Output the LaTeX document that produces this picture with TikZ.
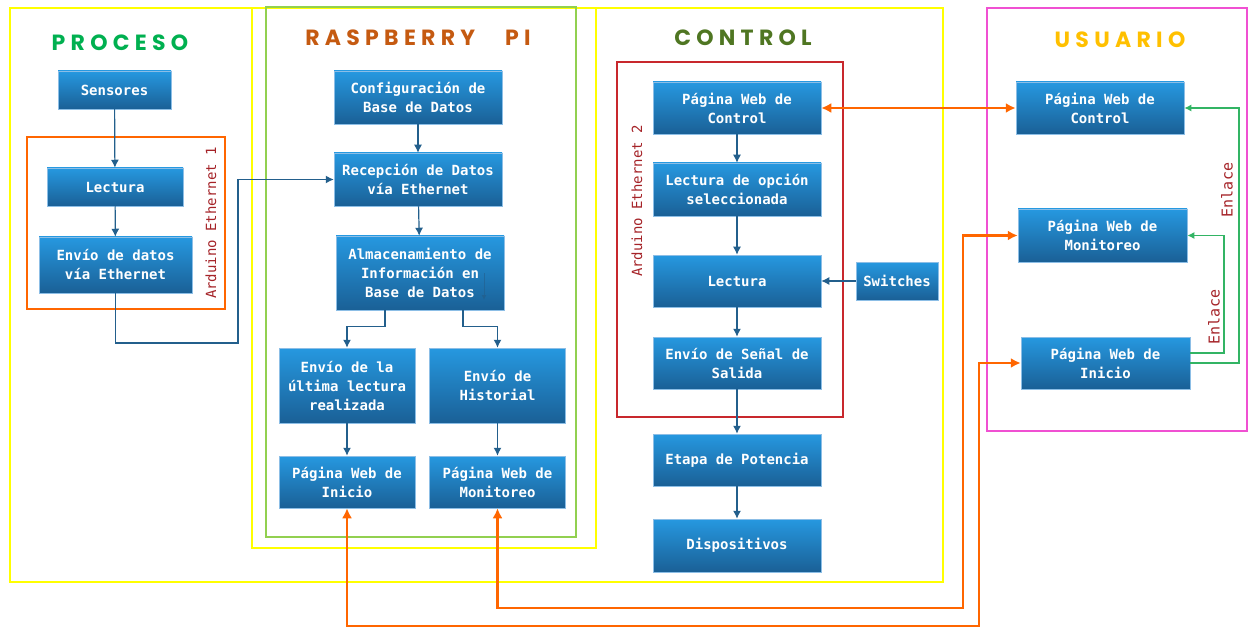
\documentclass[tikz,border=0pt]{standalone}
\usepackage{fontspec}
\setmonofont{DejaVu Sans Mono}
\newfontfamily\titlefont{Poppins}[LetterSpace=24]
\usetikzlibrary{arrows.meta, calc}

\definecolor{boxtop}{RGB}{38,152,224}
\definecolor{boxbot}{RGB}{26,96,150}
\definecolor{boxedge}{RGB}{140,190,230}
\definecolor{lineblue}{RGB}{35,95,140}
\definecolor{orangeln}{RGB}{255,102,0}
\definecolor{greenln}{RGB}{50,180,100}
\definecolor{labred}{RGB}{165,35,40}
\definecolor{cproc}{RGB}{0,176,80}
\definecolor{craspi}{RGB}{197,90,17}
\definecolor{cctrl}{RGB}{79,118,34}
\definecolor{cuser}{RGB}{255,192,0}
\definecolor{fyellow}{RGB}{255,255,0}
\definecolor{fgreen}{RGB}{146,208,80}
\definecolor{forange}{RGB}{255,102,0}
\definecolor{fred}{RGB}{200,40,45}
\definecolor{fpink}{RGB}{240,80,210}

\begin{document}
\begin{tikzpicture}[x=1pt, y=-1pt,
    blk/.style={rectangle, draw=boxedge, line width=0.5pt, top color=boxtop, bottom color=boxbot,
        text=white, font=\ttfamily\bfseries\fontsize{14}{19}\selectfont, align=center, inner sep=0pt},
    ttl/.style={font=\titlefont\bfseries\fontsize{22}{22}\selectfont},
    tag/.style={rotate=90, text=labred, font=\ttfamily\fontsize{14}{14}\selectfont},
    bord/.style={line width=2.8pt},
    conn/.style={draw=lineblue, line width=1.2pt, -{Latex[length=8pt,width=8pt]}},
    web/.style={draw=orangeln, line width=2.4pt, {Latex[length=10pt,width=10pt]}-{Latex[length=10pt,width=10pt]}},
    link/.style={draw=greenln, line width=1.4pt, -{Latex[length=7pt,width=7pt]}}]
    \useasboundingbox (0,0) rectangle (1249,628);

    % frames
    \draw[bord, fyellow] (10,8) rectangle (943,582);
    \draw[bord, fyellow] (252,8) rectangle (596,548);
    \draw[bord, fgreen] (266,7) rectangle (576,537);
    \draw[bord, forange] (27,137) rectangle (225,309);
    \draw[bord, fred] (617,62) rectangle (843,417);
    \draw[bord, fpink] (987,8) rectangle (1247,431);

    % titles
    \path (120,43) node[ttl, text=cproc] (tproc) {PROCESO};
    \path (418,38) node[ttl, text=craspi] (traspi) {RASPBERRY\hspace{30pt}PI};
    \path (743,38) node[ttl, text=cctrl] (tctrl) {CONTROL};
    \path (1120,40) node[ttl, text=cuser] (tuser) {USUARIO};

    % proceso
    \path (114.5,90) node[blk, minimum width=113, minimum height=38] (sens) {Sensores};
    \path (115,187) node[blk, minimum width=136, minimum height=38] (lec1) {Lectura};
    \path (115.5,265) node[blk, minimum width=153, minimum height=56] (env1) {Envío de datos\\vía Ethernet};
    \path (211,223) node[tag] (ard1) {Arduino Ethernet 1};

    % raspberry pi
    \path (418,97.5) node[blk, minimum width=168, minimum height=53] (config) {Configuración de\\Base de Datos};
    \path (418,179.5) node[blk, minimum width=168, minimum height=53] (recep) {Recepción de Datos\\vía Ethernet};
    \path (420,273) node[blk, minimum width=168, minimum height=74] (almac) {Almacenamiento de\\Información en\\Base de Datos};
    \path (347,385.5) node[blk, minimum width=136, minimum height=75] (envult) {Envío de la\\última lectura\\realizada};
    \path (497.5,385.5) node[blk, minimum width=136, minimum height=75] (hist) {Envío de\\Historial};
    \path (347,482) node[blk, minimum width=136, minimum height=52] (rini) {Página Web de\\Inicio};
    \path (497.5,482) node[blk, minimum width=136, minimum height=52] (rmon) {Página Web de\\Monitoreo};

    % control
    \path (737,108) node[blk, minimum width=168, minimum height=52] (cweb) {Página Web de\\Control};
    \path (737,189.5) node[blk, minimum width=168, minimum height=53] (copc) {Lectura de opción\\seleccionada};
    \path (737,281) node[blk, minimum width=168, minimum height=52] (clec) {Lectura};
    \path (897,281) node[blk, minimum width=82, minimum height=38] (sw) {Switches};
    \path (737,363) node[blk, minimum width=168, minimum height=52] (csal) {Envío de Señal de\\Salida};
    \path (737,460) node[blk, minimum width=168, minimum height=52] (etapa) {Etapa de Potencia};
    \path (737,545.5) node[blk, minimum width=168, minimum height=53] (disp) {Dispositivos};
    \path (637,201) node[tag] (ard2) {Arduino Ethernet 2};

    % usuario
    \path (1100,108) node[blk, minimum width=168, minimum height=52] (uweb) {Página Web de\\Control};
    \path (1102.5,235.5) node[blk, minimum width=169, minimum height=53] (umon) {Página Web de\\Monitoreo};
    \path (1105.5,363) node[blk, minimum width=169, minimum height=52] (uini) {Página Web de\\Inicio};
    \path (1227,190) node[tag, font=\ttfamily\fontsize{15}{15}\selectfont] (enl1) {Enlace};
    \path (1214,317) node[tag, font=\ttfamily\fontsize{15}{15}\selectfont] (enl2) {Enlace};

    % blue connectors
    \coordinate (k1) at (238,343);
    \draw[conn] (sens) -- (lec1);
    \draw[conn] (lec1) -- (env1);
    \draw[conn] (env1.south) |- (k1) |- (recep.west);
    \draw[conn] (config) -- (recep);
    \draw[conn] (recep) -- (almac);
    \draw[conn] ($(almac.south)+(-35,0)$) -- ++(0,16) -| (envult.north);
    \draw[conn] ($(almac.south)+(43,0)$) -- ++(0,16) -| (hist.north);
    \draw[conn] (envult) -- (rini);
    \draw[conn] (hist) -- (rmon);
    \coordinate (ghost1) at (484,273);
    \coordinate (ghost2) at (484,300);
    \draw[conn, line width=0.8pt, opacity=0.6, -{Latex[length=5pt,width=5pt]}] (ghost1) -- (ghost2);
    \draw[conn] (cweb) -- (copc);
    \draw[conn] (copc) -- (clec);
    \draw[conn] (sw) -- (clec);
    \draw[conn] (clec) -- (csal);
    \draw[conn] (csal) -- (etapa);
    \draw[conn] (etapa) -- (disp);

    % web links
    \coordinate (k2) at (979,626);
    \coordinate (k3) at (963,608);
    \draw[web] (cweb.east) -- (uweb.west);
    \draw[web] (rini.south) |- (k2) |- (uini.west);
    \draw[web] (rmon.south) |- (k3) |- (umon.west);

    % enlaces
    \coordinate (k4) at (1224,235.5);
    \coordinate (k5) at (1239,108);
    \draw[link] ($(uini.east)+(0,-10)$) -| (k4) -- (umon.east);
    \draw[link] (uini.east) -| (k5) -- (uweb.east);
\end{tikzpicture}
\end{document}
